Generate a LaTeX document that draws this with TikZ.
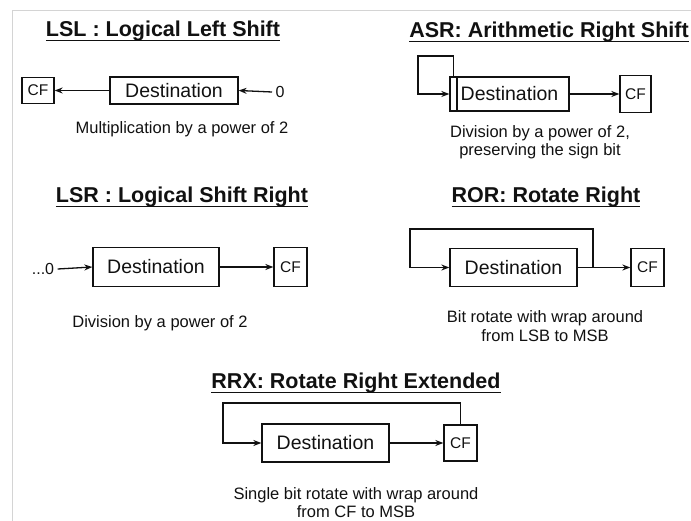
\documentclass[tikz,border=0pt]{standalone}
\usepackage{fontspec}
\setmainfont{Liberation Sans}
\usepackage{xcolor}
\usetikzlibrary{arrows.meta, positioning, calc}
\definecolor{FrameGray}{HTML}{D4D4D4}
\definecolor{InkBlack}{HTML}{111111}
\newcommand{\ulbar}[1]{\setbox0\hbox{#1}\rlap{\rule[-4.5pt]{\wd0}{1.4pt}}\box0}
\tikzset{
    regbox/.style={
        draw=InkBlack,
        line width=1.3pt,
        minimum width=#1,
        inner sep=0pt,
        text=InkBlack,
        font=\fontsize{19.5}{22}\selectfont
    },
    regbox/.default=127pt,
    cfbox/.style={
        draw=InkBlack,
        line width=1.3pt,
        minimum width=32pt,
        inner sep=0pt,
        text=InkBlack,
        font=\fontsize{15.5}{18}\selectfont
    },
    signbox/.style={
        draw=InkBlack,
        line width=1.3pt,
        minimum width=7pt,
        inner sep=0pt
    },
    optitle/.style={
        text=InkBlack,
        font=\fontsize{21.5}{25}\selectfont\bfseries
    },
    caption/.style={
        text=InkBlack,
        align=center,
        font=\fontsize{16.5}{18.5}\selectfont
    },
    bitin/.style={
        text=InkBlack,
        font=\fontsize{16}{19}\selectfont
    },
    arrow/.style={
        -{Stealth[length=8pt,width=6pt]},
        line width=1.3pt,
        InkBlack
    }
}

\begin{document}
\begin{tikzpicture}[x=1pt, y=-1pt]
        \useasboundingbox (0,0) rectangle (691,521);
        % Page frame
        \draw[FrameGray, line width=1pt] (12,521) -- (12,11) -- (691,11);

        % LSL
        \node[optitle] (lsltitle) at (163,31) {\ulbar{LSL : Logical Left Shift}};
        \node[cfbox, minimum height=26pt] (cfL) at (38,90.5) {CF};
        \node[regbox=128pt, minimum height=27pt] (destL) at (174,90.5) {Destination};
        \node[bitin] (zeroL) at (280,92) {0};
        \node[caption] (capL) at (182,129) {Multiplication by a power of 2};
        \draw[arrow] (zeroL.west) -- (destL.east);
        \draw[arrow] (destL.west) -- (cfL.east);

        % ASR
        \node[optitle] (asrtitle) at (549,32) {\ulbar{ASR: Arithmetic Right Shift}};
        \node[regbox=119pt, minimum height=34pt] (destA) at (509.5,94) {Destination};
        \node[signbox, minimum height=34pt] (signA) at (453.5,94) {};
        \node[cfbox, minimum width=31pt, minimum height=37pt] (cfA) at (635.5,94) {CF};
        \node[caption] (capA) at (540,142) {Division by a power of 2,\\preserving the sign bit};
        \coordinate (loopA) at (418,56);
        \draw[arrow] (destA.east) -- (cfA.west);
        \draw[arrow] (signA.north) |- (loopA) |- (destA.west);

        % LSR
        \node[optitle] (lsrtitle) at (182,197) {\ulbar{LSR : Logical Shift Right}};
        \node[bitin] (zeroR) at (43,269) {...0};
        \node[regbox=126pt, minimum height=39pt] (destR) at (156,267) {Destination};
        \node[cfbox, minimum width=33pt, minimum height=39pt] (cfR) at (290.5,267) {CF};
        \node[caption] (capR) at (160,323) {Division by a power of 2};
        \draw[arrow] (zeroR.east) -- (destR.west);
        \draw[arrow] (destR.east) -- (cfR.west);

        % ROR
        \node[optitle] (rortitle) at (546,197) {\ulbar{ROR: Rotate Right}};
        \node[regbox, minimum height=38pt] (destO) at (513.5,267.5) {Destination};
        \node[cfbox, minimum width=33pt, minimum height=38pt] (cfO) at (647.5,267.5) {CF};
        \node[caption] (capO) at (545,326) {Bit rotate with wrap around\\from LSB to MSB};
        \coordinate (tapO) at (593,267.5);
        \coordinate (loopO) at (410,229);
        \draw[arrow] (destO.east) -- (cfO.west);
        \draw[arrow] (tapO) |- (loopO) |- (destO.west);

        % RRX
        \node[optitle] (rrxtitle) at (356,383) {\ulbar{RRX: Rotate Right Extended}};
        \node[regbox, minimum height=38pt] (destX) at (325.5,443) {Destination};
        \node[cfbox, minimum width=33pt, minimum height=36pt] (cfX) at (460.5,443) {CF};
        \node[caption] (capX) at (356,502.5) {Single bit rotate with wrap around\\from CF to MSB};
        \coordinate (loopX) at (223,403);
        \draw[arrow] (destX.east) -- (cfX.west);
        \draw[arrow] (cfX.north) |- (loopX) |- (destX.west);
    \end{tikzpicture}
\end{document}
